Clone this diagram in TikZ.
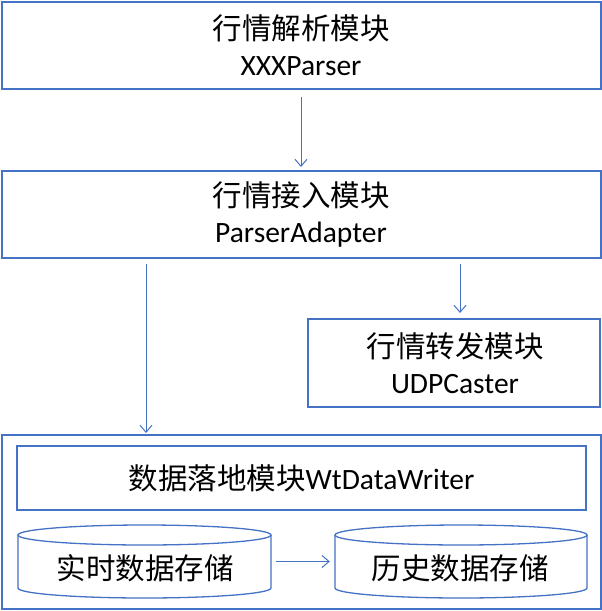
\documentclass[tikz,border=0pt]{standalone}
\usepackage{fontspec}
\setmainfont{Carlito}
\newfontfamily\cjk{Noto Sans CJK SC}
\usetikzlibrary{arrows.meta}
\definecolor{obl}{HTML}{4472C4}
\begin{document}
\begin{tikzpicture}[x=1pt,y=-1pt,
  box/.style={draw=obl,line width=2pt,inner sep=0pt,minimum width=#1},
  txt/.style={align=center,font=\fontsize{29.5}{36}\selectfont,inner sep=0pt},
  conn/.style={draw=obl,line width=1pt,-{Straight Barb[length=7pt,width=12pt]}},
  cyl/.style={draw=obl,line width=1.3pt}]
\useasboundingbox (0,0) rectangle (602,611);
% boxes
\node[box=599pt,minimum height=87pt] (parser) at (301,45) {};
\node[txt] (parsert) at (301,45) {{\cjk 行情解析模块}\\XXXParser};
\node[box=599pt,minimum height=87pt] (adapter) at (301,214.5) {};
\node[txt] (adaptert) at (301,214.5) {{\cjk 行情接入模块}\\ParserAdapter};
\node[box=292pt,minimum height=88pt] (caster) at (454,363) {};
\node[txt] (castert) at (455,363.5) {{\cjk 行情转发模块}\\UDPCaster};
\node[box=599pt,minimum height=174pt] (outer) at (301,522) {};
\node[box=569pt,minimum height=64pt] (writer) at (301.5,478) {};
\node[txt] (writert) at (301.5,478) {{\cjk 数据落地模块}WtDataWriter};
% cylinders
\draw[cyl] (144.5,535) ellipse[x radius=126.5pt,y radius=10pt];
\draw[cyl] (18,535) -- (18,588) arc[start angle=180,end angle=360,x radius=126.5pt,y radius=10pt] -- (271,535);
\draw[cyl] (461,535) ellipse[x radius=126pt,y radius=10pt];
\draw[cyl] (335,535) -- (335,588) arc[start angle=180,end angle=360,x radius=126pt,y radius=10pt] -- (587,535);
\node[minimum width=253pt,minimum height=73pt,inner sep=0pt] (cyl1) at (144.5,561.5) {};
\node[minimum width=252pt,minimum height=73pt,inner sep=0pt] (cyl2) at (461,561.5) {};
\node[txt] (cyl1t) at (145,568) {\cjk 实时数据存储};
\node[txt] (cyl2t) at (460,568) {\cjk 历史数据存储};
% connectors
\draw[conn,shorten <=7pt,shorten >=3pt] (parser.south) -- (adapter.north);
\draw[conn,shorten <=5pt,shorten >=1pt] (146,0 |- adapter.south) -- (146,0 |- outer.north);
\draw[conn,shorten <=5pt,shorten >=5pt] (460,0 |- adapter.south) -- (460,0 |- caster.north);
\draw[conn,shorten <=5pt,shorten >=5pt] (cyl1.east) -- (cyl2.west);
\end{tikzpicture}
\end{document}
